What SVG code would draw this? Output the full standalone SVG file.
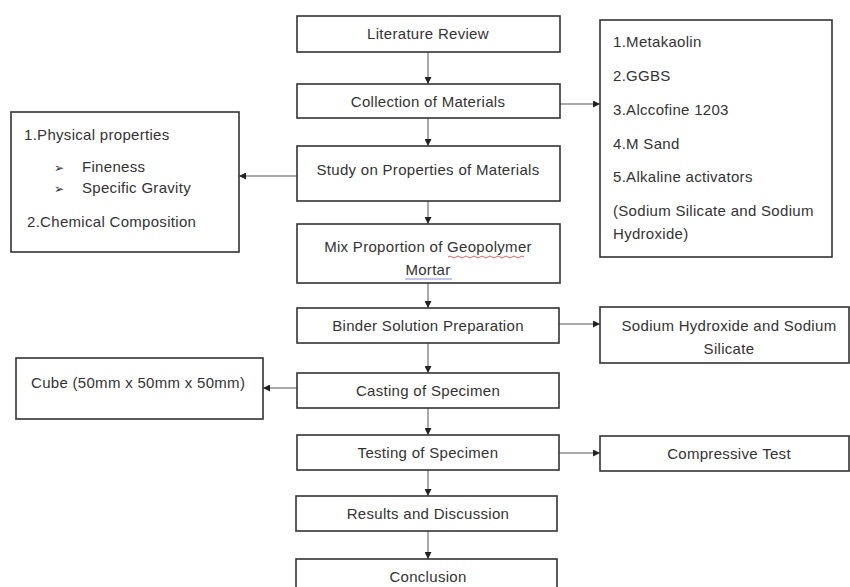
<svg xmlns="http://www.w3.org/2000/svg" width="850" height="587" viewBox="0 0 850 587">
<defs>
<marker id="ah" viewBox="0 0 10 10" refX="10" refY="5" markerWidth="7" markerHeight="7" markerUnits="userSpaceOnUse" orient="auto"><path d="M0,0 L10,5 L0,10 z" fill="#222"/></marker>
<style>
.box{fill:#fff;stroke:#333;stroke-width:1.6}
.t{font-family:"Liberation Sans",Arial,sans-serif;font-size:15px;letter-spacing:0.3px;fill:#333}
.c{text-anchor:middle}
.ln{stroke:#555;stroke-width:1;fill:none;marker-end:url(#ah)}
.sq{stroke:#d33;stroke-width:0.8;fill:none}
</style>
</defs>
<rect width="850" height="587" fill="#fff"/>
<g id="connectors">
<line class="ln" x1="428" y1="52" x2="428" y2="84"/>
<line class="ln" x1="428" y1="118" x2="428" y2="146"/>
<line class="ln" x1="428" y1="201" x2="428" y2="224"/>
<line class="ln" x1="428" y1="283" x2="428" y2="308"/>
<line class="ln" x1="428" y1="343" x2="428" y2="373"/>
<line class="ln" x1="428" y1="408" x2="428" y2="435"/>
<line class="ln" x1="428" y1="470" x2="428" y2="496"/>
<line class="ln" x1="428" y1="531" x2="428" y2="559"/>
<line class="ln" x1="560" y1="104" x2="600" y2="104"/>
<line class="ln" x1="297" y1="176" x2="239" y2="176"/>
<line class="ln" x1="559" y1="324" x2="600" y2="324"/>
<line class="ln" x1="297" y1="388" x2="263" y2="388"/>
<line class="ln" x1="559" y1="453" x2="600" y2="453"/>
</g>
<g id="literature"><rect class="box" x="297" y="16" width="263" height="36"/><text class="t c" x="428" y="39">Literature Review</text></g>
<g id="collection"><rect class="box" x="297" y="84" width="263" height="34"/><text class="t c" x="428" y="107">Collection of Materials</text></g>
<g id="study"><rect class="box" x="297" y="146" width="263" height="55"/><text class="t c" x="428" y="175">Study on Properties of Materials</text></g>
<g id="mix"><rect class="box" x="297" y="224" width="263" height="59"/><text class="t c" x="428" y="252">Mix Proportion of Geopolymer</text><text class="t c" x="428" y="275">Mortar</text>
<path class="sq" d="M448,257 q2,-2 4,0 t4,0 t4,0 t4,0 t4,0 t4,0 t4,0 t4,0 t4,0 t4,0 t4,0 t4,0 t4,0 t4,0 t4,0 t4,0 t4,0 t4,0 t4,0"/>
<line x1="405" y1="279" x2="452" y2="279" stroke="#6a6ad0" stroke-width="0.8"/></g>
<g id="binder"><rect class="box" x="297" y="308" width="262" height="35"/><text class="t c" x="428" y="331">Binder Solution Preparation</text></g>
<g id="casting"><rect class="box" x="297" y="373" width="262" height="35"/><text class="t c" x="428" y="396">Casting of Specimen</text></g>
<g id="testing"><rect class="box" x="297" y="435" width="262" height="35"/><text class="t c" x="428" y="458">Testing of Specimen</text></g>
<g id="results"><rect class="box" x="296" y="496" width="261" height="35"/><text class="t c" x="428" y="519">Results and Discussion</text></g>
<g id="conclusion"><rect class="box" x="296" y="559" width="261" height="40"/><text class="t c" x="428" y="582">Conclusion</text></g>
<g id="materials"><rect class="box" x="600" y="20" width="232" height="237"/>
<text class="t" x="613" y="47">1.Metakaolin</text>
<text class="t" x="613" y="81">2.GGBS</text>
<text class="t" x="613" y="115">3.Alccofine 1203</text>
<text class="t" x="613" y="149">4.M Sand</text>
<text class="t" x="613" y="182">5.Alkaline activators</text>
<text class="t" x="613" y="216">(Sodium Silicate and Sodium</text>
<text class="t" x="613" y="239">Hydroxide)</text></g>
<g id="properties"><rect class="box" x="11" y="112" width="228" height="140"/>
<text class="t" x="24" y="140">1.Physical properties</text>
<text class="t" x="54" y="172" style="font-size:12px">➢</text><text class="t" x="82" y="172">Fineness</text>
<text class="t" x="54" y="193" style="font-size:12px">➢</text><text class="t" x="82" y="193">Specific Gravity</text>
<text class="t" x="27" y="227">2.Chemical Composition</text></g>
<g id="sodium"><rect class="box" x="600" y="307" width="249" height="56"/><text class="t c" x="729" y="331">Sodium Hydroxide and Sodium</text><text class="t c" x="729" y="354">Silicate</text></g>
<g id="cube"><rect class="box" x="16" y="358" width="247" height="61"/><text class="t" x="31" y="388">Cube (50mm x 50mm x 50mm)</text></g>
<g id="compressive"><rect class="box" x="600" y="436" width="249" height="35"/><text class="t c" x="729" y="459">Compressive Test</text></g>
</svg>
